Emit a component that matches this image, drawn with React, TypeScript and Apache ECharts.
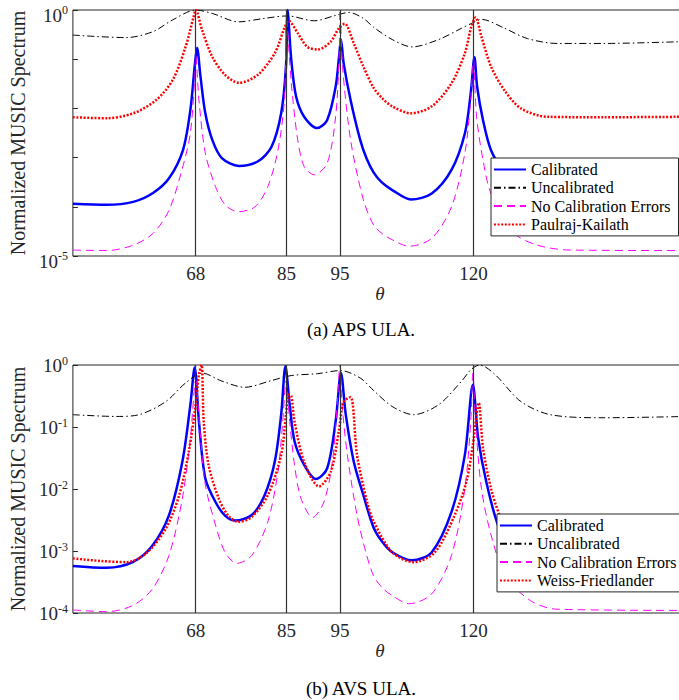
import React, { useEffect, useRef } from 'react';
import * as echarts from 'echarts';

// ---------- tick values ----------
const doaTicks = [68, 85, 95, 120];
const apsMajorTicks = [1e-5, 1e-4, 1e-3, 1e-2, 1e-1, 1];
const apsLabelTicks = [1e-5, 1];
const avsMajorTicks = [1e-4, 1e-3, 1e-2, 1e-1, 1];
const avsMinorTicks = [
  2e-4, 3e-4, 4e-4, 5e-4, 6e-4, 7e-4, 8e-4, 9e-4,
  2e-3, 3e-3, 4e-3, 5e-3, 6e-3, 7e-3, 8e-3, 9e-3,
  2e-2, 3e-2, 4e-2, 5e-2, 6e-2, 7e-2, 8e-2, 9e-2,
  2e-1, 3e-1, 4e-1, 5e-1, 6e-1, 7e-1, 8e-1, 9e-1,
];

// ---------- (a) APS ULA ----------
const apsCalTheta = [45, 51.3, 56.3, 60, 63, 65.6, 67, 67.8, 68.25, 68.9, 69.8, 71.1, 72.9, 76.1, 79.6, 82.2, 84, 84.9, 85.2, 85.9, 86.8, 88.3, 90.7, 92.6, 94.2, 94.9, 95.2, 95.7, 97, 98.8, 100, 101.3, 102.8, 104.8, 108.3, 112.2, 115.9, 118.4, 119.5, 120.2, 120.7, 121.8, 123.3, 125.8, 129, 134, 142, 160];
const apsCalValue = [1.15e-4, 1.1e-4, 1.26e-4, 1.91e-4, 3.8e-4, 1.41e-3, 9.33e-3, 7.08e-2, 0.17, 4.37e-2, 7.94e-3, 2.29e-3, 9.77e-4, 6.76e-4, 8.32e-4, 1.66e-3, 7.94e-3, 7.08e-2, 1.0, 9.55e-2, 1.74e-2, 6.76e-3, 3.98e-3, 5.75e-3, 2.75e-2, 0.132, 0.251, 8.32e-2, 1.48e-2, 2.29e-3, 9.55e-4, 5.01e-4, 3.16e-4, 2.19e-4, 1.41e-4, 1.86e-4, 5.62e-4, 3.09e-3, 2.04e-2, 0.11, 2.75e-2, 5.75e-3, 1.41e-3, 5.01e-4, 2.24e-4, 1.32e-4, 1.15e-4, 1.15e-4];

const apsUncalTheta = [45, 55, 60, 63.7, 68, 71.1, 76, 80.9, 85.2, 90.2, 93.9, 96.7, 99.4, 101.3, 104.8, 108.5, 113.5, 117.8, 119.9, 121.5, 125.8, 130.1, 135.7, 144.3, 160];
const apsUncalValue = [0.309, 0.275, 0.363, 0.631, 1.0, 0.851, 0.575, 0.676, 0.759, 0.603, 0.759, 0.891, 0.676, 0.447, 0.251, 0.178, 0.251, 0.427, 0.55, 0.646, 0.427, 0.263, 0.209, 0.209, 0.229];

const apsNoErrTheta = [45, 51.3, 56.3, 60, 63, 65.6, 67, 67.8, 68, 68.6, 69.8, 71.7, 73.5, 75.9, 79.1, 81.5, 83.4, 84.6, 85, 85.9, 87.1, 88.3, 90.2, 92.6, 94.2, 94.9, 95, 95.5, 97, 99.4, 101.3, 103, 104.8, 107.9, 112.2, 115.9, 118.4, 119.5, 120, 120.6, 121.8, 123.3, 127.6, 132, 138.1, 160];
const apsNoErrValue = [1.32e-5, 1.29e-5, 1.66e-5, 2.88e-5, 8.51e-5, 6.61e-4, 3.16e-3, 3.98e-2, 0.123, 1.48e-2, 1.23e-3, 2.57e-4, 1.1e-4, 7.94e-5, 1e-4, 2.57e-4, 1.41e-3, 1.48e-2, 0.631, 3.24e-2, 2.29e-3, 6.61e-4, 4.47e-4, 7.59e-4, 6.76e-3, 0.155, 1.0, 7.08e-2, 2.29e-3, 1.38e-4, 4.27e-5, 2.82e-5, 2.14e-5, 1.58e-5, 2.29e-5, 1e-4, 1.23e-3, 1.48e-2, 9.55e-2, 6.76e-3, 8.91e-4, 1.86e-4, 2.95e-5, 1.66e-5, 1.32e-5, 1.29e-5];

const apsPkTheta = [45, 51.3, 56.3, 60.6, 63.7, 66.1, 67.6, 68, 69.2, 71.1, 73.5, 76.1, 79.6, 82.8, 84.6, 85.4, 87.1, 88.9, 90.9, 93.3, 94.8, 95.9, 97.6, 99.4, 101.3, 103, 104.8, 108.3, 112.2, 115.9, 118.4, 119.6, 120.4, 121.5, 123.3, 125.8, 128.9, 133.8, 144.3, 160];
const apsPkValue = [6.61e-3, 6.31e-3, 7.94e-3, 1.48e-2, 3.8e-2, 0.178, 0.724, 1.0, 0.389, 0.112, 4.79e-2, 3.31e-2, 4.79e-2, 0.132, 0.427, 0.603, 0.339, 0.178, 0.158, 0.229, 0.427, 0.525, 0.209, 7.08e-2, 2.63e-2, 1.58e-2, 1.1e-2, 7.94e-3, 1.1e-2, 3.24e-2, 0.132, 0.457, 0.708, 0.288, 7.08e-2, 2.34e-2, 1e-2, 6.76e-3, 6.61e-3, 6.76e-3];

// ---------- (b) AVS ULA ----------
const avsCalTheta = [45, 51.3, 56.2, 59.9, 63, 65.5, 67, 67.8, 68.6, 69.8, 71.7, 73.5, 75.4, 78.5, 80.9, 82.8, 84, 84.8, 85.6, 86.5, 88.3, 90.5, 92.6, 94.2, 95.2, 96.1, 97.6, 99.4, 101.3, 103, 104.8, 108.5, 112.2, 115.9, 118.4, 119.9, 120.9, 122.4, 124.6, 127, 131, 138, 160];
const avsCalValue = [5.75e-4, 5.37e-4, 6.61e-4, 1.23e-3, 3.8e-3, 2.75e-2, 0.229, 0.912, 0.123, 1.48e-2, 6.17e-3, 3.72e-3, 3.09e-3, 3.8e-3, 7.94e-3, 2.75e-2, 0.158, 0.955, 0.229, 5.89e-2, 2.45e-2, 1.45e-2, 2.14e-2, 0.123, 0.741, 0.158, 2.75e-2, 7.94e-3, 2.4e-3, 1.38e-3, 9.55e-4, 7.08e-4, 9.55e-4, 4.27e-3, 3.55e-2, 0.479, 6.61e-2, 1.32e-2, 2.63e-3, 1.12e-3, 7.08e-4, 5.89e-4, 5.75e-4];

const avsUncalTheta = [45, 53.1, 57.4, 62.4, 66.1, 69.2, 72.9, 77.2, 82.2, 85.9, 90.8, 95.1, 98.8, 101.3, 104.8, 108.8, 113.5, 117.8, 119.6, 121.2, 124, 128.9, 134.4, 144.3, 160];
const avsUncalValue = [0.158, 0.148, 0.158, 0.257, 0.513, 0.741, 0.55, 0.437, 0.562, 0.676, 0.724, 0.813, 0.617, 0.389, 0.214, 0.158, 0.229, 0.55, 0.851, 1.0, 0.708, 0.257, 0.158, 0.141, 0.148];

const avsNoErrTheta = [45, 51.3, 56.2, 59.9, 63, 65.5, 67, 68, 68.9, 69.8, 71.7, 73.5, 75.7, 78.5, 81.5, 83.4, 84.3, 84.9, 85.6, 86.5, 87.7, 89.9, 92, 93.6, 94.5, 95, 95.4, 96.4, 98.2, 99.8, 101.3, 103, 104.8, 107.9, 112.2, 115.9, 118.4, 119.5, 119.9, 120.4, 121.5, 123.3, 126, 130.7, 135.7, 160];
const avsNoErrValue = [1.12e-4, 1.05e-4, 1.32e-4, 2.45e-4, 8.51e-4, 7.08e-3, 6.61e-2, 0.562, 6.61e-2, 1.17e-2, 2.63e-3, 9.55e-4, 6.31e-4, 8.51e-4, 2.95e-3, 1.91e-2, 0.123, 0.55, 0.123, 2.45e-2, 7.08e-3, 3.47e-3, 6.17e-3, 2.75e-2, 0.229, 1.0, 0.229, 3.55e-2, 3.8e-3, 1.0e-3, 3.98e-4, 2.51e-4, 1.91e-4, 1.41e-4, 2.04e-4, 8.51e-4, 1.02e-2, 0.123, 0.741, 0.123, 1.02e-2, 1.82e-3, 3.98e-4, 1.58e-4, 1.15e-4, 1.1e-4];

const avsWfTheta = [45, 50.1, 55, 58.7, 62.4, 64.9, 66.7, 68, 68.6, 69.1, 69.5, 70.4, 72.3, 74.1, 76, 78.5, 81.5, 84, 84.9, 85.4, 85.9, 86.5, 88.3, 91.1, 93.3, 94.8, 95.7, 97, 98.2, 100.1, 101.3, 104.8, 108.8, 112.8, 116.5, 118.7, 119.9, 121, 121.8, 123.3, 124.9, 127.5, 131, 138, 160];
const avsWfValue = [7.59e-4, 6.92e-4, 6.61e-4, 9.12e-4, 2.29e-3, 7.94e-3, 3.98e-2, 0.229, 0.708, 1.0, 0.123, 2.45e-2, 7.08e-3, 3.72e-3, 2.95e-3, 3.55e-3, 7.94e-3, 3.55e-2, 0.158, 0.331, 0.316, 0.123, 2.75e-2, 1.1e-2, 1.91e-2, 8.51e-2, 0.257, 0.302, 3.55e-2, 6.17e-3, 3.02e-3, 9.55e-4, 6.61e-4, 9.55e-4, 3.8e-3, 1.32e-2, 5.13e-2, 0.245, 4.57e-2, 1.02e-2, 3.8e-3, 1.41e-3, 7.94e-4, 7.08e-4, 7.08e-4];

const legendTop = ['Calibrated', 'Uncalibrated', 'No Calibration Errors', 'Paulraj-Kailath'];
const legendBottom = ['Calibrated', 'Uncalibrated', 'No Calibration Errors', 'Weiss-Friedlander'];

const FONT = 'Liberation Serif, Times New Roman, serif';
const INK = '#262626';

const zip = (t: number[], v: number[]) => t.map((x, i) => [x, v[i]]);

const styles: Record<string, any> = {
  'Calibrated': { color: '#0000ff', width: 2.5, type: 'solid' },
  'Uncalibrated': { color: '#000000', width: 1, type: [7, 3, 1.5, 3] },
  'No Calibration Errors': { color: '#ff00ff', width: 1, type: [8, 5] },
  'Paulraj-Kailath': { color: '#ff0000', width: 2.5, type: [2, 1.6] },
  'Weiss-Friedlander': { color: '#ff0000', width: 2.5, type: [2, 1.6] },
};

function lineSeries(name: string, idx: number, data: number[][]) {
  const s = styles[name];
  return {
    type: 'line',
    name,
    xAxisIndex: idx,
    yAxisIndex: idx,
    data,
    symbol: 'none',
    showSymbol: false,
    smooth: 0.3,
    color: s.color,
    lineStyle: { color: s.color, width: s.width, type: s.type, cap: 'butt' },
    z: 3,
  };
}

function doaLines(idx: number) {
  return {
    type: 'line',
    name: '_doa' + idx,
    xAxisIndex: idx,
    yAxisIndex: idx,
    data: [],
    symbol: 'none',
    z: 2,
    markLine: {
      silent: true,
      symbol: ['none', 'none'],
      label: { show: false },
      lineStyle: { color: '#333333', width: 1.2, type: 'solid' },
      data: doaTicks.map((v) => ({ xAxis: v })),
    },
  };
}

function xAxisCfg(idx: number) {
  return {
    type: 'value',
    gridIndex: idx,
    min: 45,
    max: 160,
    axisLine: { show: false },
    axisTick: { show: false },
    splitLine: { show: false },
    axisLabel: { customValues: doaTicks, fontSize: 19, fontFamily: FONT, color: INK, margin: 8 },
    name: 'θ',
    nameLocation: 'middle',
    nameGap: 27,
    nameTextStyle: { fontSize: 19, fontStyle: 'italic', fontFamily: FONT, color: INK },
  };
}

const expLabel = (v: number) => `{b|10}{s|${Math.round(Math.log10(v))}}`;

function yAxisCfg(idx: number, min: number, labels: number[], ticks: number[], raised: boolean) {
  return {
    type: 'log',
    logBase: 10,
    gridIndex: idx,
    min,
    max: 1,
    axisLine: { show: false },
    splitLine: { show: false },
    axisTick: { show: true, inside: true, length: 5, customValues: ticks, lineStyle: { color: INK } },
    axisLabel: {
      customValues: labels,
      formatter: expLabel,
      margin: 5,
      rich: raised
        ? {
            b: { fontSize: 19, fontFamily: FONT, color: INK, lineHeight: 20, verticalAlign: 'bottom' },
            s: { fontSize: 12, fontFamily: FONT, color: INK, lineHeight: 30, verticalAlign: 'middle' },
          }
        : {
            b: { fontSize: 19, fontFamily: FONT, color: INK, lineHeight: 20, verticalAlign: 'bottom' },
            s: { fontSize: 12, fontFamily: FONT, color: INK, lineHeight: 12, verticalAlign: 'top' },
          },
    },
    name: 'Normalized MUSIC Spectrum',
    nameLocation: 'middle',
    nameGap: 40,
    nameTextStyle: { fontSize: 20, fontFamily: FONT, color: INK },
  };
}

function legendCfg(data: string[], left: number, top: number) {
  return {
    data,
    left,
    top,
    orient: 'vertical',
    itemWidth: 32,
    itemHeight: 2,
    itemGap: 1.3,
    padding: [3, 8, 3, 2],
    backgroundColor: '#ffffff',
    borderColor: INK,
    borderWidth: 1,
    borderRadius: 0,
    selectedMode: false,
    itemStyle: { color: 'transparent', borderColor: 'transparent', borderWidth: 0, opacity: 0 },
    textStyle: { fontFamily: FONT, fontSize: 16, color: '#000', lineHeight: 17 },
    z: 10,
  };
}

const option = {
  animation: false,
  backgroundColor: '#ffffff',
  textStyle: { fontFamily: FONT },
  grid: [
    { left: 66, top: 10, width: 621, height: 246, show: true, borderColor: INK, borderWidth: 1, backgroundColor: 'transparent' },
    { left: 66, top: 365, width: 621, height: 248, show: true, borderColor: INK, borderWidth: 1, backgroundColor: 'transparent' },
  ],
  xAxis: [xAxisCfg(0), xAxisCfg(1)],
  yAxis: [
    yAxisCfg(0, 1e-5, apsLabelTicks, apsMajorTicks, true),
    yAxisCfg(1, 1e-4, avsMajorTicks, avsMajorTicks, false),
    {
      type: 'log', logBase: 10, gridIndex: 1, min: 1e-4, max: 1,
      axisLine: { show: false }, splitLine: { show: false },
      axisLabel: { show: false },
      axisTick: { show: true, inside: true, length: 3, customValues: avsMinorTicks, lineStyle: { color: INK } },
    },
  ],
  legend: [legendCfg(legendTop, 491, 158), legendCfg(legendBottom, 497, 514)],
  series: [
    doaLines(0),
    lineSeries('Calibrated', 0, zip(apsCalTheta, apsCalValue)),
    lineSeries('Uncalibrated', 0, zip(apsUncalTheta, apsUncalValue)),
    lineSeries('No Calibration Errors', 0, zip(apsNoErrTheta, apsNoErrValue)),
    lineSeries('Paulraj-Kailath', 0, zip(apsPkTheta, apsPkValue)),
    doaLines(1),
    lineSeries('Calibrated', 1, zip(avsCalTheta, avsCalValue)),
    lineSeries('Uncalibrated', 1, zip(avsUncalTheta, avsUncalValue)),
    lineSeries('No Calibration Errors', 1, zip(avsNoErrTheta, avsNoErrValue)),
    lineSeries('Weiss-Friedlander', 1, zip(avsWfTheta, avsWfValue)),
  ],
  graphic: [
    { type: 'text', x: 361, y: 329, style: { text: '(a) APS ULA.', fontSize: 19, fontFamily: FONT, fill: '#000', align: 'center', verticalAlign: 'middle' } },
    { type: 'text', x: 361, y: 688, style: { text: '(b) AVS ULA.', fontSize: 19, fontFamily: FONT, fill: '#000', align: 'center', verticalAlign: 'middle' } },
  ],
};

export default function App() {
  const ref = useRef<HTMLDivElement>(null);
  useEffect(() => {
    const chart = echarts.init(ref.current as HTMLDivElement, null, { renderer: 'svg' });
    chart.setOption(option as any);
    return () => chart.dispose();
  }, []);
  return (
    <div style={{ position: 'absolute', left: 0, top: 0, width: 679, height: 700, overflow: 'hidden', background: '#fff' }}>
      <div ref={ref} style={{ width: 700, height: 700 }} />
    </div>
  );
}
